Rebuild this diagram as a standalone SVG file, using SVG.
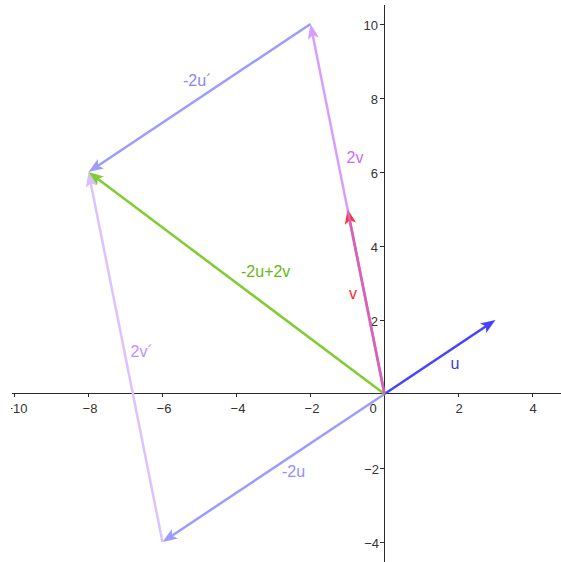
<svg xmlns="http://www.w3.org/2000/svg" width="561" height="562" viewBox="0 0 561 562">
<style>
.ax{stroke:#2b2b2b;stroke-width:1;fill:none}
.tk{stroke:#2b2b2b;stroke-width:1}
.al{font-family:"Liberation Sans",Arial,sans-serif;font-size:13px;fill:#333}
.lb{font-family:"Liberation Sans",Arial,sans-serif;font-size:16px}
.vec{stroke-width:2.5;fill:none;stroke-linecap:butt}
</style>
<defs>
<marker id="mBlue" markerUnits="userSpaceOnUse" markerWidth="16" markerHeight="12" refX="9" refY="6" orient="auto"><path d="M0,0.3 L15,6 L0,11.7 L3.5,6 Z" fill="#4444ff"/></marker>
<marker id="mRed" markerUnits="userSpaceOnUse" markerWidth="16" markerHeight="12" refX="9" refY="6" orient="auto"><path d="M0,0.3 L15,6 L0,11.7 L3.5,6 Z" fill="#ff3333"/></marker>
<marker id="mPurple" markerUnits="userSpaceOnUse" markerWidth="16" markerHeight="12" refX="9" refY="6" orient="auto"><path d="M0,0.3 L15,6 L0,11.7 L3.5,6 Z" fill="#d69cff"/></marker>
<marker id="mLBlue" markerUnits="userSpaceOnUse" markerWidth="16" markerHeight="12" refX="9" refY="6" orient="auto"><path d="M0,0.3 L15,6 L0,11.7 L3.5,6 Z" fill="#9c9cff"/></marker>
<marker id="mGreen" markerUnits="userSpaceOnUse" markerWidth="16" markerHeight="12" refX="9" refY="6" orient="auto"><path d="M0,0.3 L15,6 L0,11.7 L3.5,6 Z" fill="#7fcc33"/></marker>
<marker id="mLPurple" markerUnits="userSpaceOnUse" markerWidth="16" markerHeight="12" refX="9" refY="6" orient="auto"><path d="M0,0.3 L15,6 L0,11.7 L3.5,6 Z" fill="#dbbcff"/></marker>
<clipPath id="clipL"><rect x="11" y="0" width="550" height="562"/></clipPath>
</defs>
<rect width="561" height="562" fill="#fff"/>
<g id="axes">
<line class="ax" x1="12" y1="393.5" x2="561" y2="393.5"/>
<line class="ax" x1="384.5" y1="5" x2="384.5" y2="562"/>
<g class="tk">
<line x1="14.5" y1="394" x2="14.5" y2="397"/>
<line x1="88.5" y1="394" x2="88.5" y2="397"/>
<line x1="162.5" y1="394" x2="162.5" y2="397"/>
<line x1="236.5" y1="394" x2="236.5" y2="397"/>
<line x1="310.5" y1="394" x2="310.5" y2="397"/>
<line x1="458.5" y1="394" x2="458.5" y2="397"/>
<line x1="532.5" y1="394" x2="532.5" y2="397"/>
<line x1="380" y1="24.5" x2="384" y2="24.5"/>
<line x1="380" y1="98.5" x2="384" y2="98.5"/>
<line x1="380" y1="172.5" x2="384" y2="172.5"/>
<line x1="380" y1="246.5" x2="384" y2="246.5"/>
<line x1="380" y1="320.5" x2="384" y2="320.5"/>
<line x1="380" y1="468.5" x2="384" y2="468.5"/>
<line x1="380" y1="542.5" x2="384" y2="542.5"/>
</g>
<g class="al" text-anchor="middle">
<text x="16.5" y="413" clip-path="url(#clipL)">−10</text>
<text x="90" y="413">−8</text>
<text x="164" y="413">−6</text>
<text x="238" y="413">−4</text>
<text x="312" y="413">−2</text>
<text x="373" y="413">0</text>
<text x="459" y="413">2</text>
<text x="533" y="413">4</text>
</g>
<g class="al" text-anchor="end">
<text x="378" y="29.5">10</text>
<text x="378" y="103.5">8</text>
<text x="378" y="177.5">6</text>
<text x="378" y="251.5">4</text>
<text x="378" y="325.5">2</text>
<text x="379" y="473.5">−2</text>
<text x="379" y="547.5">−4</text>
</g>
</g>
<g id="connectors">
<line id="vec-2u" class="vec" x1="384.5" y1="394" x2="167.5" y2="538.7" stroke="#9c9cff" marker-end="url(#mLBlue)"/>
<line id="vec-2vp" class="vec" x1="162.5" y1="542" x2="89.7" y2="177.9" stroke="#dcc2ff" marker-end="url(#mLPurple)"/>
<line id="vec-2up" class="vec" x1="310.5" y1="24" x2="93.5" y2="168.7" stroke="#9c9cff" marker-end="url(#mLBlue)"/>
<line id="vec-sum" class="vec" x1="384.5" y1="394" x2="93.3" y2="175.6" stroke="#7fcc33" marker-end="url(#mGreen)"/>
<line id="vec-u" class="vec" x1="384.5" y1="394" x2="490.5" y2="323.3" stroke="#4444ff" marker-end="url(#mBlue)"/>
<line id="vec-v" class="vec" x1="384.5" y1="394" x2="348.7" y2="214.9" stroke="#ff2020" marker-end="url(#mRed)"/>
<line id="vec-2v" class="vec" x1="384.5" y1="394" x2="311.7" y2="29.9" stroke="#c47aff" stroke-opacity="0.72" marker-end="url(#mPurple)"/>
</g>
<g id="label-2up"><text class="lb" x="183" y="86" fill="#8585ff">-2u´</text></g>
<g id="label-2v"><text class="lb" x="346.5" y="162.5" fill="#c86cff">2v</text></g>
<g id="label-sum"><text class="lb" x="241" y="277" fill="#66b814">-2u+2v</text></g>
<g id="label-v"><text class="lb" x="349" y="298.5" fill="#ff2a2a">v</text></g>
<g id="label-u"><text class="lb" x="450.5" y="369" fill="#3c3cd8">u</text></g>
<g id="label-2vp"><text class="lb" x="130.5" y="357" fill="#c08cff">2v´</text></g>
<g id="label-2u"><text class="lb" x="282" y="477" fill="#8f8fff">-2u</text></g>
</svg>
